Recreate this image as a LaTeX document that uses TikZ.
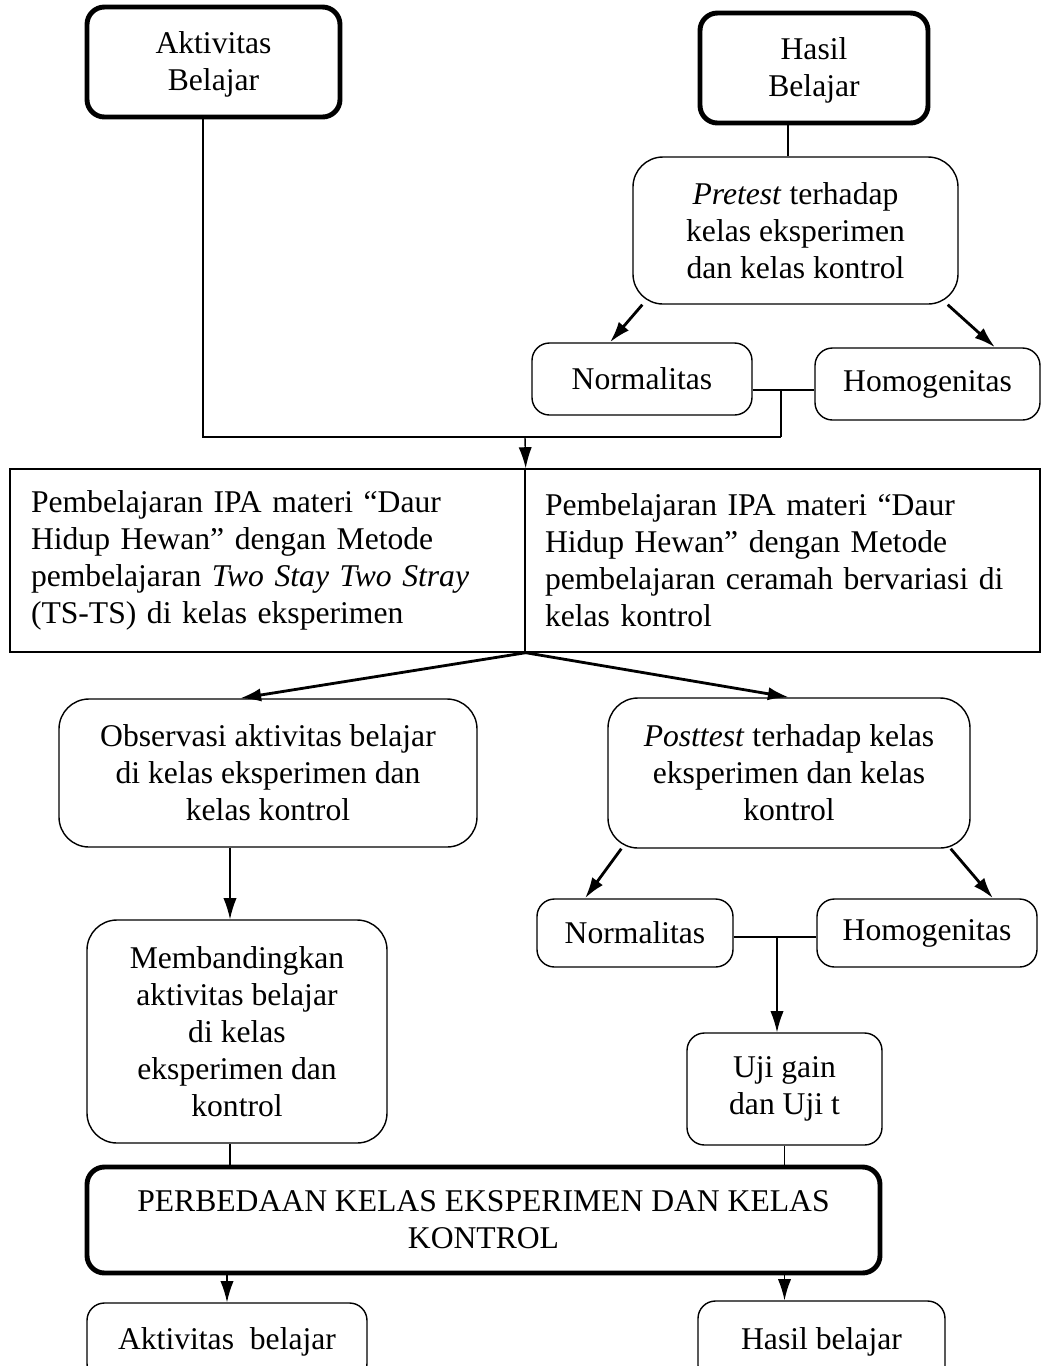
\documentclass[tikz,border=0pt]{standalone}
\usepackage{fontspec}
\setmainfont{Liberation Serif}
\usepackage{tikz}
\usetikzlibrary{arrows.meta,calc,positioning}

\tikzset{
	box/.style={draw, rounded corners=0.35cm, align=center, line width=0.8pt, inner sep=2pt},
	bigbox/.style={box, rounded corners=0.6cm},
	thickbox/.style={box, line width=2.8pt},
	plainbox/.style={draw, line width=0.8pt, align=left, inner xsep=0.42cm},
	flow/.style={-{Latex[length=12pt,width=7.5pt]}, line width=0.8pt},
	bigflow/.style={flow, line width=1.6pt},
	link/.style={line width=0.8pt}
}

\begin{document}
\begin{tikzpicture}[font=\fontsize{18}{21}\selectfont]
			\clip (0,0) rectangle (20.84,-27.32);
			% top row
			\node[thickbox, minimum width=5.06cm, minimum height=2.2cm] (akt) at (4.27,-1.24) {\strut Aktivitas\\Belajar};
			\node[thickbox, minimum width=4.56cm, minimum height=2.2cm] (hasil) at (16.28,-1.36) {\strut Hasil\\Belajar};
			\node[bigbox, minimum width=6.5cm, minimum height=2.94cm] (pre) at (15.91,-4.61) {\textit{Pretest} terhadap\\kelas eksperimen\\dan kelas kontrol};
			\node[box, minimum width=4.4cm, minimum height=1.44cm] (norm1) at (12.84,-7.58) {Normalitas};
			\node[box, minimum width=4.5cm, minimum height=1.44cm] (homo1) at (18.55,-7.68) {Homogenitas};
			% treatment
			\node[plainbox, text width=9.46cm, minimum height=3.66cm] (mainL) at (5.35,-11.21) {Pembelajaran IPA materi “Daur\\Hidup Hewan” dengan Metode\\pembelajaran \textit{Two Stay Two Stray}\\(TS-TS) di kelas eksperimen};
			\node[plainbox, inner xsep=0.4cm, text width=9.5cm, minimum height=3.66cm] (mainR) at (15.65,-11.21) {Pembelajaran IPA materi “Daur\\Hidup Hewan” dengan Metode\\pembelajaran ceramah bervariasi di\\kelas kontrol};
			% after treatment
			\node[bigbox, minimum width=8.36cm, minimum height=2.96cm] (obs) at (5.36,-15.46) {Observasi aktivitas belajar\\di kelas eksperimen dan\\kelas kontrol};
			\node[bigbox, minimum width=7.24cm, minimum height=3.0cm] (post) at (15.78,-15.46) {\textit{Posttest} terhadap kelas\\eksperimen dan kelas\\kontrol};
			\node[bigbox, minimum width=6.0cm, minimum height=4.46cm] (band) at (4.74,-20.63) {Membandingkan\\aktivitas belajar\\di kelas\\eksperimen dan\\kontrol};
			\node[box, minimum width=3.92cm, minimum height=1.36cm] (norm2) at (12.7,-18.66) {Normalitas};
			\node[box, minimum width=4.4cm, minimum height=1.36cm] (homo2) at (18.54,-18.66) {Homogenitas};
			\node[box, minimum width=3.9cm, minimum height=2.24cm] (uji) at (15.69,-21.78) {Uji gain\\dan Uji t};
			% result
			\node[thickbox, minimum width=15.86cm, minimum height=2.12cm] (perb) at (9.67,-24.4) {PERBEDAAN KELAS EKSPERIMEN DAN KELAS\\KONTROL};
			\node[box, minimum width=5.6cm, minimum height=1.56cm] (out1) at (4.54,-26.84) {Aktivitas~ belajar};
			\node[box, minimum width=4.94cm, minimum height=1.64cm] (out2) at (16.43,-26.84) {Hasil belajar};
			% joints
			\coordinate (j1) at (10.5,-8.74);
			\coordinate (j3) at (15.62,-7.8);
			\coordinate (j4) at (15.54,-18.74);
			% connectors
			\draw[link] ([xshift=-0.21cm]akt.south) |- (j3 |- j1);
			\draw[link] (pre.north -| 15.76,0) -- (hasil.south -| 15.76,0);
			\draw[bigflow] ([xshift=0.2cm]pre.south west) -- ([xshift=-0.64cm]norm1.north);
			\draw[bigflow] ([xshift=-0.22cm]pre.south east) -- ([xshift=1.35cm]homo1.north);
			\draw[link] (norm1.east |- j3) -- (homo1.west |- j3);
			\draw[link] (j3) -- (j3 |- j1);
			\draw[flow] (j1) -- (mainL.north east);
			\draw[bigflow] (mainL.south east) -- ([xshift=-0.56cm]obs.north);
			\draw[bigflow] (mainL.south east) -- (post.north);
			\draw[flow] ([xshift=-0.14cm]band.north |- obs.south) -- ([xshift=-0.14cm]band.north);
			\draw[bigflow] ([xshift=0.28cm]post.south west) -- ([xshift=-1.0cm]norm2.north);
			\draw[bigflow] ([xshift=-0.4cm]post.south east) -- ([xshift=1.32cm]homo2.north);
			\draw[link] (norm2.east |- j4) -- (homo2.west |- j4);
			\draw[flow] (j4) -- (j4 |- uji.north);
			\draw[link] ([xshift=-0.14cm]band.south) -- ([xshift=-0.14cm]band.south |- perb.north);
			\draw[link] (uji.south) -- (uji.south |- perb.north);
			\draw[flow] (out1.north |- perb.south) -- (out1.north);
			\draw[flow] (uji.south |- perb.south) -- (uji.south |- out2.north);
		\end{tikzpicture}
\end{document}
